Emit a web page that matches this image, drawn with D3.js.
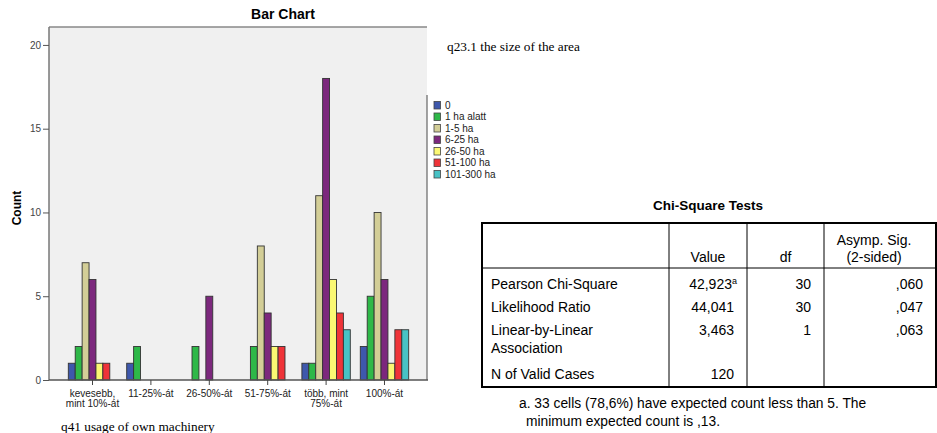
<!DOCTYPE html>
<html>
<head>
<meta charset="utf-8">
<script src="https://cdn.jsdelivr.net/npm/d3@7"></script>
<style>
  body { margin: 0; background: #fff; }
  svg { display: block; }
</style>
</head>
<body>
<div id="chart"></div>
<script>
// categories of q41 and the series of q23.1
const categories = ["kevesebb, mint 10%-át", "11-25%-át", "26-50%-át", "51-75%-át", "több, mint 75%-át", "100%-át"];
const catLines = [["kevesebb,", "mint 10%-át"], ["11-25%-át"], ["26-50%-át"], ["51-75%-át"], ["több, mint", "75%-át"], ["100%-át"]];
const series = ["0", "1 ha alatt", "1-5 ha", "6-25 ha", "26-50 ha", "51-100 ha", "101-300 ha"];
const colors = ["#3E58AC", "#2EB848", "#D3CE97", "#7C287D", "#FBF873", "#EF3338", "#48C2C5"];

// counts, one array per category, in series order
const counts = [
    [1, 2, 7, 6, 1, 1, 0],
    [1, 2, 0, 0, 0, 0, 0],
    [0, 2, 0, 5, 0, 0, 0],
    [0, 2, 8, 4, 2, 2, 0],
    [1, 1, 11, 18, 6, 4, 3],
    [2, 5, 10, 6, 1, 3, 3]
];
const yTicks = [0, 5, 10, 15, 20];

// chi-square table
const tableHeader = ["", "Value", "df", "Asymp. Sig.|(2-sided)"];
const tableRows = [
    { label: ["Pearson Chi-Square"], value: "42,923", sup: "a", df: "30", sig: ",060" },
    { label: ["Likelihood Ratio"], value: "44,041", df: "30", sig: ",047" },
    { label: ["Linear-by-Linear", "Association"], value: "3,463", df: "1", sig: ",063" },
    { label: ["N of Valid Cases"], value: "120", df: "", sig: "" }
];
const footnote = ["a. 33 cells (78,6%) have expected count less than 5. The", "minimum expected count is ,13."];

const width = 937, height = 433;
const svg = d3.select("#chart").append("svg")
    .attr("width", width)
    .attr("height", height);

const pLeft = 49, pRight = 427, pTop = 27, pBottom = 380;
const sans = "'Liberation Sans', Arial, sans-serif";
const serif = "'Liberation Serif', 'Times New Roman', serif";
const tfs = 14;

const x = d3.scaleBand().domain(categories).range([pLeft, pRight + 1]).paddingInner(0).paddingOuter(0.245);
const xs = d3.scaleBand().domain(series).range([5, x.bandwidth() - 5]);
const y = d3.scaleLinear().domain([0, 21.07]).range([pBottom, pTop]);

// plot background and frame
svg.append("rect")
    .attr("x", pLeft).attr("y", pTop)
    .attr("width", pRight - pLeft).attr("height", pBottom - pTop)
    .attr("fill", "#f0f0f0");
svg.append("line").attr("x1", pLeft).attr("x2", pRight).attr("y1", pTop).attr("y2", pTop)
    .attr("stroke", "#888").attr("stroke-width", 1.5);
svg.append("line").attr("x1", pRight).attr("x2", pRight).attr("y1", 95).attr("y2", pBottom)
    .attr("stroke", "#666").attr("stroke-width", 1.2);

// bars
const groups = svg.append("g").selectAll("g")
    .data(counts)
    .join("g")
    .attr("transform", (d, i) => `translate(${x(categories[i])},0)`);

groups.selectAll("rect")
    .data(d => d.map((v, j) => ({ v, j })).filter(e => e.v > 0))
    .join("rect")
    .attr("x", e => xs(series[e.j]))
    .attr("y", e => y(e.v))
    .attr("width", xs.bandwidth())
    .attr("height", e => y(0) - y(e.v))
    .attr("fill", e => colors[e.j])
    .attr("stroke", "#333")
    .attr("stroke-width", 0.9);

// axes
const yAxis = svg.append("g")
    .attr("transform", `translate(${pLeft},0)`)
    .call(d3.axisLeft(y).tickValues(yTicks).tickSize(6).tickPadding(2).tickFormat(d3.format("d")));
yAxis.select(".domain").attr("d", `M0,${pTop}V${pBottom}`).attr("stroke", "#777").attr("stroke-width", 1.5);
yAxis.selectAll(".tick line").attr("stroke", "#555");
yAxis.selectAll(".tick text").attr("font-family", sans).attr("font-size", 10).attr("fill", "#444");

const xAxis = svg.append("g")
    .attr("transform", `translate(0,${pBottom})`)
    .call(d3.axisBottom(x).tickSize(5).tickFormat(""));
xAxis.select(".domain").attr("d", `M${pLeft},0H${pRight + 1}`).attr("stroke", "#555").attr("stroke-width", 1.5);
xAxis.selectAll(".tick line").attr("stroke", "#444");

svg.append("g").selectAll("text")
    .data(catLines)
    .join("text")
    .attr("x", (d, i) => x(categories[i]) + x.bandwidth() / 2)
    .attr("y", 397)
    .attr("text-anchor", "middle")
    .attr("font-family", sans)
    .attr("font-size", 10)
    .attr("fill", "#222")
    .selectAll("tspan")
    .data(d => d)
    .join("tspan")
    .attr("x", function () { return this.parentNode.getAttribute("x"); })
    .attr("dy", (d, i) => i === 0 ? 0 : 10)
    .text(d => d);

// titles
svg.append("text")
    .attr("x", 283).attr("y", 19)
    .attr("text-anchor", "middle")
    .attr("font-family", sans).attr("font-size", 14).attr("font-weight", "bold")
    .text("Bar Chart");

svg.append("text")
    .attr("transform", "translate(21,208) rotate(-90)")
    .attr("text-anchor", "middle")
    .attr("font-family", sans).attr("font-size", 12).attr("font-weight", "bold")
    .text("Count");

svg.append("text")
    .attr("x", 61).attr("y", 431)
    .attr("font-family", serif).attr("font-size", 13.3)
    .text("q41 usage of own machinery");

svg.append("text")
    .attr("x", 447).attr("y", 51)
    .attr("font-family", serif).attr("font-size", 13.3)
    .text("q23.1 the size of the area");

// legend
const legend = svg.append("g").selectAll("g")
    .data(series)
    .join("g")
    .attr("transform", (d, i) => `translate(434,${105 + i * 11.5})`);
legend.append("rect")
    .attr("x", 0).attr("y", -3.5)
    .attr("width", 6.5).attr("height", 7.5)
    .attr("fill", (d, i) => colors[i])
    .attr("stroke", "#444").attr("stroke-width", 0.8);
legend.append("text")
    .attr("x", 11).attr("y", 3.5)
    .attr("font-family", sans).attr("font-size", 10)
    .attr("fill", "#222")
    .text(d => d);

// chi-square table
const tb = svg.append("g");
const tLeft = 482, tRight = 936, tTop = 223, tBottom = 387;
const colX = [tLeft, 669, 747, 824, tRight];
const headBottom = 268;

tb.append("text")
    .attr("x", 708).attr("y", 210)
    .attr("text-anchor", "middle")
    .attr("font-family", sans).attr("font-size", 13.5).attr("font-weight", "bold")
    .text("Chi-Square Tests");

tb.append("rect")
    .attr("x", tLeft).attr("y", tTop)
    .attr("width", tRight - tLeft).attr("height", tBottom - tTop)
    .attr("fill", "none").attr("stroke", "#000").attr("stroke-width", 2);
tb.append("line").attr("x1", tLeft).attr("x2", tRight).attr("y1", headBottom).attr("y2", headBottom)
    .attr("stroke", "#000").attr("stroke-width", 1);
tb.selectAll(".col")
    .data(colX.slice(1, 4))
    .join("line")
    .attr("x1", d => d).attr("x2", d => d)
    .attr("y1", tTop).attr("y2", tBottom)
    .attr("stroke", "#000").attr("stroke-width", 1);

// header cells, centred and bottom aligned
tableHeader.forEach((h, c) => {
    if (!h) return;
    const lines = h.split("|");
    lines.forEach((ln, k) => {
        tb.append("text")
            .attr("x", (colX[c] + colX[c + 1]) / 2 - (c === 3 ? 6 : 0))
            .attr("y", 262 - (lines.length - 1 - k) * 17)
            .attr("text-anchor", "middle")
            .attr("font-family", sans).attr("font-size", tfs)
            .text(ln);
    });
});

const rowY = [289, 312, 335, 379];
tableRows.forEach((r, i) => {
    r.label.forEach((ln, k) => {
        tb.append("text")
            .attr("x", 491).attr("y", rowY[i] + k * 18)
            .attr("font-family", sans).attr("font-size", tfs)
            .text(ln);
    });
    const vt = tb.append("text")
        .attr("x", 734).attr("y", rowY[i])
        .attr("text-anchor", "end")
        .attr("font-family", sans).attr("font-size", tfs);
    if (r.sup) {
        vt.attr("x", 737);
        vt.append("tspan").text(r.value);
        vt.append("tspan").attr("dy", -5).attr("font-size", 9).text(r.sup);
    } else {
        vt.text(r.value);
    }
    tb.append("text")
        .attr("x", 811).attr("y", rowY[i])
        .attr("text-anchor", "end")
        .attr("font-family", sans).attr("font-size", tfs)
        .text(r.df);
    tb.append("text")
        .attr("x", 923).attr("y", rowY[i])
        .attr("text-anchor", "end")
        .attr("font-family", sans).attr("font-size", tfs)
        .text(r.sig);
});

footnote.forEach((ln, k) => {
    tb.append("text")
        .attr("x", k === 0 ? 519 : 526).attr("y", 408 + k * 18)
        .attr("font-family", sans).attr("font-size", 13.8)
        .text(ln);
});
</script>
</body>
</html>
